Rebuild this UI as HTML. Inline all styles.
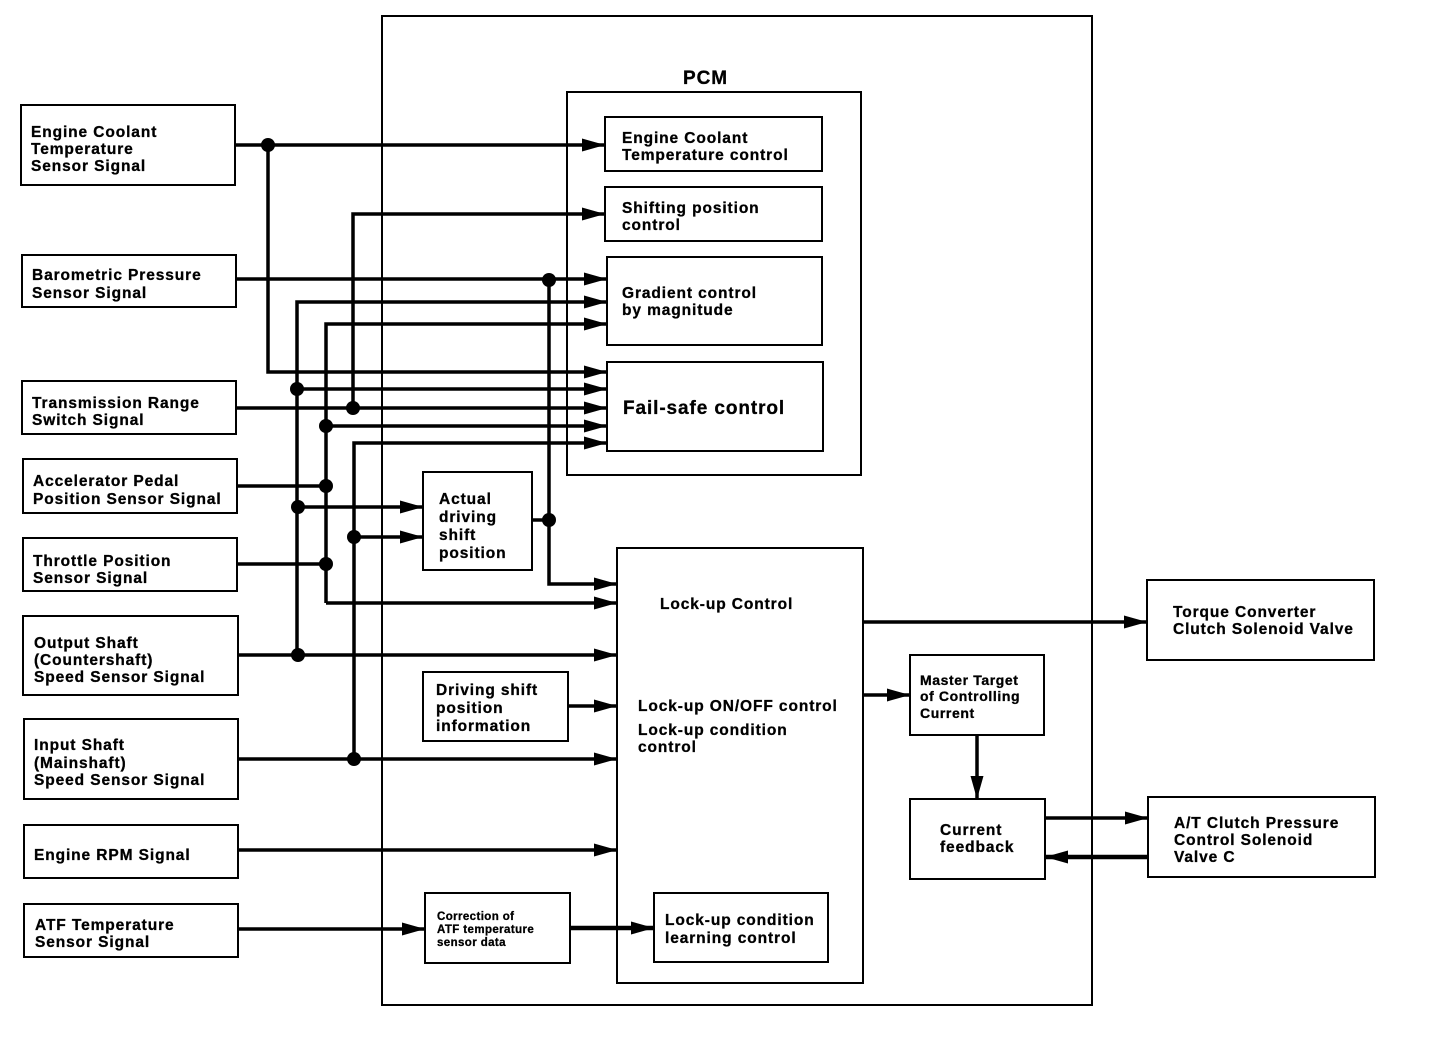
<!DOCTYPE html>
<html><head><meta charset="utf-8"><style>
html,body{margin:0;padding:0;background:#fff;}
svg{display:block;}
text{font-family:"Liberation Sans",Arial,sans-serif;font-weight:bold;font-size:15.5px;fill:#000;letter-spacing:0.9px;stroke:#000;stroke-width:0.3px;}
</style></head><body>
<svg width="1456" height="1048" viewBox="0 0 1456 1048" xmlns="http://www.w3.org/2000/svg">
<defs>
<marker id="a" markerUnits="userSpaceOnUse" markerWidth="24" markerHeight="16" refX="23" refY="8" orient="auto">
<path d="M0,1.5 L23,8 L0,14.5 z" fill="#000"/>
</marker>
</defs>
<rect width="1456" height="1048" fill="#fff"/>
<g fill="none" stroke="#000" stroke-width="2">
<rect x="382" y="16" width="710" height="989"/>
<rect x="567" y="92" width="294" height="383"/>
<rect x="605" y="117" width="217" height="54"/>
<rect x="605" y="187" width="217" height="54"/>
<rect x="607" y="257" width="215" height="88"/>
<rect x="607" y="362" width="216" height="89"/>
<rect x="617" y="548" width="246" height="435"/>
<rect x="654" y="893" width="174" height="69"/>
<rect x="425" y="893" width="145" height="70"/>
<rect x="423" y="472" width="109" height="98"/>
<rect x="423" y="672" width="145" height="69"/>
<rect x="910" y="655" width="134" height="80"/>
<rect x="910" y="799" width="135" height="80"/>
<rect x="1147" y="580" width="227" height="80"/>
<rect x="1148" y="797" width="227" height="80"/>
<rect x="21" y="105" width="214" height="80"/>
<rect x="22" y="255" width="214" height="52"/>
<rect x="22" y="381" width="214" height="53"/>
<rect x="23" y="459" width="214" height="54"/>
<rect x="23" y="538" width="214" height="53"/>
<rect x="23" y="616" width="215" height="79"/>
<rect x="24" y="719" width="214" height="80"/>
<rect x="24" y="825" width="214" height="53"/>
<rect x="24" y="904" width="214" height="53"/>
</g>
<g fill="none" stroke="#000" stroke-width="3.5">
<line x1="235" y1="145" x2="605" y2="145" marker-end="url(#a)"/>
<polyline points="268,145 268,372 607,372" marker-end="url(#a)"/>
<polyline points="353,408 353,214 605,214" marker-end="url(#a)"/>
<line x1="236" y1="279" x2="607" y2="279" marker-end="url(#a)"/>
<polyline points="297,656 297,302 607,302" marker-end="url(#a)"/>
<polyline points="326,603 326,324 607,324" marker-end="url(#a)"/>
<line x1="297" y1="389" x2="607" y2="389" marker-end="url(#a)"/>
<line x1="236" y1="408" x2="607" y2="408" marker-end="url(#a)"/>
<line x1="326" y1="426" x2="607" y2="426" marker-end="url(#a)"/>
<polyline points="354,759 354,443 607,443" marker-end="url(#a)"/>
<line x1="237" y1="486" x2="326" y2="486"/>
<line x1="297" y1="507" x2="423" y2="507" marker-end="url(#a)"/>
<line x1="354" y1="537" x2="423" y2="537" marker-end="url(#a)"/>
<line x1="237" y1="564" x2="326" y2="564"/>
<line x1="326" y1="603" x2="617" y2="603" marker-end="url(#a)"/>
<polyline points="549,279 549,584 617,584" marker-end="url(#a)"/>
<line x1="532" y1="520" x2="549" y2="520"/>
<line x1="238" y1="655" x2="617" y2="655" marker-end="url(#a)"/>
<line x1="568" y1="706" x2="617" y2="706" marker-end="url(#a)"/>
<line x1="238" y1="759" x2="617" y2="759" marker-end="url(#a)"/>
<line x1="238" y1="850" x2="617" y2="850" marker-end="url(#a)"/>
<line x1="238" y1="929" x2="425" y2="929" marker-end="url(#a)"/>
<line x1="570" y1="928" x2="654" y2="928" stroke-width="4.5" marker-end="url(#a)"/>
<line x1="863" y1="622" x2="1147" y2="622" marker-end="url(#a)"/>
<line x1="863" y1="695" x2="910" y2="695" marker-end="url(#a)"/>
<line x1="977" y1="735" x2="977" y2="799" marker-end="url(#a)"/>
<line x1="1045" y1="818" x2="1148" y2="818" marker-end="url(#a)"/>
<line x1="1148" y1="857" x2="1045" y2="857" stroke-width="4.5" marker-end="url(#a)"/>
</g>
<g fill="#000">
<circle cx="268" cy="145" r="7"/>
<circle cx="549" cy="280" r="7"/>
<circle cx="297" cy="389" r="7"/>
<circle cx="353" cy="408" r="7"/>
<circle cx="326" cy="426" r="7"/>
<circle cx="326" cy="486" r="7"/>
<circle cx="298" cy="507" r="7"/>
<circle cx="354" cy="537" r="7"/>
<circle cx="549" cy="520" r="7"/>
<circle cx="326" cy="564" r="7"/>
<circle cx="298" cy="655" r="7"/>
<circle cx="354" cy="759" r="7"/>
</g>
<g>
<text x="683" y="84" style="font-size:19px">PCM</text>
<text x="31" y="137">Engine Coolant</text><text x="31" y="154">Temperature</text><text x="31" y="171">Sensor Signal</text>
<text x="32" y="280">Barometric Pressure</text><text x="32" y="298">Sensor Signal</text>
<text x="32" y="408">Transmission Range</text><text x="32" y="425">Switch Signal</text>
<text x="33" y="486">Accelerator Pedal</text><text x="33" y="504">Position Sensor Signal</text>
<text x="33" y="566">Throttle Position</text><text x="33" y="583">Sensor Signal</text>
<text x="34" y="648">Output Shaft</text><text x="34" y="665">(Countershaft)</text><text x="34" y="682">Speed Sensor Signal</text>
<text x="34" y="750">Input Shaft</text><text x="34" y="768">(Mainshaft)</text><text x="34" y="785">Speed Sensor Signal</text>
<text x="34" y="860">Engine RPM Signal</text>
<text x="35" y="930">ATF Temperature</text><text x="35" y="947">Sensor Signal</text>
<text x="622" y="143">Engine Coolant</text><text x="622" y="160">Temperature control</text>
<text x="622" y="213">Shifting position</text><text x="622" y="230">control</text>
<text x="622" y="298">Gradient control</text><text x="622" y="315">by magnitude</text>
<text x="623" y="414" style="font-size:19px">Fail-safe control</text>
<text x="439" y="504">Actual</text><text x="439" y="522">driving</text><text x="439" y="540">shift</text><text x="439" y="558">position</text>
<text x="436" y="695">Driving shift</text><text x="436" y="713">position</text><text x="436" y="731">information</text>
<text x="660" y="609">Lock-up Control</text>
<text x="638" y="711">Lock-up ON/OFF control</text>
<text x="638" y="735">Lock-up condition</text><text x="638" y="752">control</text>
<text x="665" y="925">Lock-up condition</text><text x="665" y="943">learning control</text>
<text x="437" y="920" style="font-size:11.5px;letter-spacing:0.4px">Correction of</text><text x="437" y="933" style="font-size:11.5px;letter-spacing:0.4px">ATF temperature</text><text x="437" y="946" style="font-size:11.5px;letter-spacing:0.4px">sensor data</text>
<text x="920" y="685" style="font-size:14px;letter-spacing:0.6px">Master Target</text><text x="920" y="701" style="font-size:14px;letter-spacing:0.6px">of Controlling</text><text x="920" y="718" style="font-size:14px;letter-spacing:0.6px">Current</text>
<text x="940" y="835">Current</text><text x="940" y="852">feedback</text>
<text x="1173" y="617">Torque Converter</text><text x="1173" y="634">Clutch Solenoid Valve</text>
<text x="1174" y="828">A/T Clutch Pressure</text><text x="1174" y="845">Control Solenoid</text><text x="1174" y="862">Valve C</text>
</g>
</svg>
</body></html>
